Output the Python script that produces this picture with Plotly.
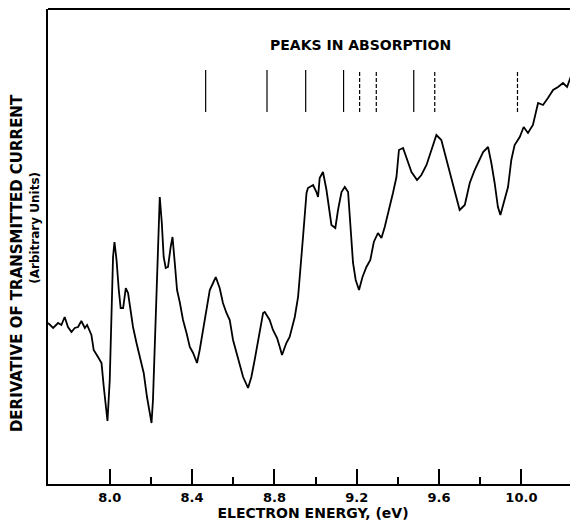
import plotly.graph_objects as go

# Electron energy (eV) and derivative of transmitted current (arbitrary units)
energy_ev = [
    7.700, 7.725, 7.749, 7.765, 7.781, 7.797, 7.814, 7.830, 7.846, 7.862,
    7.879, 7.890, 7.911, 7.922, 7.943, 7.960, 7.971, 7.981, 7.989, 8.000,
    8.008, 8.016, 8.023, 8.033, 8.044, 8.053, 8.065, 8.078, 8.089, 8.101,
    8.113, 8.130, 8.146, 8.165, 8.181, 8.194, 8.203, 8.210, 8.223, 8.233,
    8.243, 8.253, 8.262, 8.272, 8.283, 8.296, 8.305, 8.316, 8.327, 8.340,
    8.356, 8.373, 8.389, 8.405, 8.424, 8.437, 8.453, 8.470, 8.486, 8.502,
    8.515, 8.534, 8.550, 8.567, 8.583, 8.599, 8.623, 8.648, 8.672, 8.688,
    8.704, 8.729, 8.745, 8.753, 8.777, 8.793, 8.813, 8.826, 8.837, 8.858,
    8.874, 8.899, 8.915, 8.939, 8.956, 8.963, 8.988, 9.004, 9.012, 9.020,
    9.036, 9.053, 9.069, 9.077, 9.096, 9.109, 9.126, 9.142, 9.158, 9.169,
    9.182, 9.195, 9.211, 9.228, 9.247, 9.266, 9.283, 9.303, 9.320, 9.336,
    9.357, 9.376, 9.393, 9.405, 9.425, 9.441, 9.466, 9.493, 9.514, 9.539,
    9.555, 9.571, 9.587, 9.611, 9.627, 9.652, 9.676, 9.700, 9.725, 9.749,
    9.773, 9.798, 9.814, 9.838, 9.854, 9.870, 9.886, 9.898, 9.919, 9.935,
    9.951, 9.967, 9.992, 10.011, 10.032, 10.056, 10.081, 10.105, 10.129, 10.154,
    10.178, 10.202, 10.222, 10.248, 10.267,
]
signal = [
    16.1, 15.6, 16.1, 15.9, 16.7, 15.7, 15.2, 15.6, 15.7, 16.3,
    15.6, 15.9, 14.9, 13.4, 12.7, 12.1, 9.7, 7.7, 6.3, 10.4,
    17.1, 22.7, 24.2, 22.4, 19.4, 17.6, 17.6, 19.6, 19.1, 17.4,
    15.7, 14.1, 12.7, 11.1, 8.7, 6.9, 6.1, 8.4, 16.4, 23.7,
    28.7, 26.1, 22.7, 21.6, 21.7, 23.7, 24.7, 22.1, 19.4, 18.2,
    16.4, 15.1, 13.7, 13.1, 12.1, 13.4, 15.4, 17.7, 19.4, 20.1,
    20.7, 19.6, 18.1, 17.1, 16.4, 14.4, 12.7, 10.7, 9.6, 10.7,
    12.4, 15.1, 17.1, 17.2, 16.4, 15.4, 14.6, 13.7, 12.9, 14.1,
    14.7, 16.7, 18.7, 24.7, 29.1, 29.6, 29.9, 29.2, 28.7, 30.6,
    31.2, 29.4, 27.1, 25.9, 25.6, 27.4, 29.2, 29.7, 29.2, 26.1,
    22.1, 20.4, 19.4, 20.7, 21.7, 22.4, 24.2, 25.1, 24.6, 25.7,
    27.4, 29.1, 30.7, 33.4, 33.6, 32.7, 31.2, 30.4, 30.9, 31.9,
    32.9, 34.1, 34.9, 34.4, 33.1, 31.1, 29.4, 27.4, 27.9, 30.1,
    31.4, 32.4, 33.2, 33.7, 32.1, 30.1, 27.7, 26.9, 28.4, 29.7,
    32.4, 33.9, 34.7, 35.7, 35.1, 35.9, 38.1, 37.9, 38.6, 39.4,
    39.7, 40.1, 39.7, 41.2, 40.4,
]

# Absorption peak markers (eV)
peaks_solid = [8.466, 8.764, 8.952, 9.136, 9.477]
peaks_dashed = [9.214, 9.295, 9.579, 9.981]
marker_low, marker_high = 37.2, 41.4

x_tick_vals = [8.0, 8.4, 8.8, 9.2, 9.6, 10.0]
x_tick_text = ["8.0", "8.4", "8.8", "9.2", "9.6", "10.0"]
x_minor_vals = [8.2, 8.6, 9.0, 9.4, 9.8]

FONT = "DejaVu Sans"


def marker_segments(xs):
    px, py = [], []
    for v in xs:
        px += [v, v, None]
        py += [marker_low, marker_high, None]
    return px, py


fig = go.Figure()
fig.add_trace(go.Scatter(
    x=energy_ev, y=signal, mode="lines",
    line=dict(color="black", width=1.8), hoverinfo="skip", showlegend=False,
))
sx, sy = marker_segments(peaks_solid)
fig.add_trace(go.Scatter(x=sx, y=sy, mode="lines",
                         line=dict(color="black", width=1.2), showlegend=False))
dx, dy = marker_segments(peaks_dashed)
fig.add_trace(go.Scatter(x=dx, y=dy, mode="lines",
                         line=dict(color="black", width=1.2, dash="4px,2px"),
                         showlegend=False))

fig.update_layout(
    width=570, height=515,
    margin=dict(l=40, r=0, t=1, b=39),
    paper_bgcolor="white", plot_bgcolor="white",
    showlegend=False,
    xaxis=dict(
        range=[7.700, 10.275], showgrid=False, zeroline=False,
        showline=True, linecolor="black", linewidth=2,
        tickmode="array", tickvals=x_tick_vals, ticktext=x_tick_text,
        ticks="inside", ticklen=15, tickwidth=2, tickcolor="black",
        minor=dict(tickmode="array", tickvals=x_minor_vals,
                   ticks="inside", ticklen=7, tickwidth=2, tickcolor="black"),
        tickfont=dict(family=FONT, size=13, color="black", weight="bold"),
        title=dict(text="ELECTRON ENERGY, (eV)", standoff=4,
                   font=dict(family=FONT, size=14, color="black", weight="bold")),
    ),
    yaxis=dict(
        range=[0, 47.5], showgrid=False, zeroline=False,
        showline=True, linecolor="black", linewidth=2,
        showticklabels=False, ticks="",
    ),
    shapes=[dict(type="line", xref="paper", yref="paper", x0=0, x1=1, y0=1, y1=1,
                 line=dict(color="black", width=2))],
    annotations=[
        dict(text="PEAKS IN ABSORPTION", xref="paper", yref="paper",
             x=0.589, y=0.924, showarrow=False, xanchor="center", yanchor="middle",
             font=dict(family=FONT, size=14, color="black", weight="bold")),
        dict(text="DERIVATIVE OF TRANSMITTED CURRENT", xref="paper", yref="paper",
             x=-0.0585, y=0.465, textangle=-90, showarrow=False,
             xanchor="center", yanchor="middle",
             font=dict(family=FONT, size=15, color="black", weight="bold")),
        dict(text="(Arbitrary Units)", xref="paper", yref="paper",
             x=-0.024, y=0.54, textangle=-90, showarrow=False,
             xanchor="center", yanchor="middle",
             font=dict(family=FONT, size=12, color="black", weight="bold")),
    ],
)

fig.write_html("out.html")
